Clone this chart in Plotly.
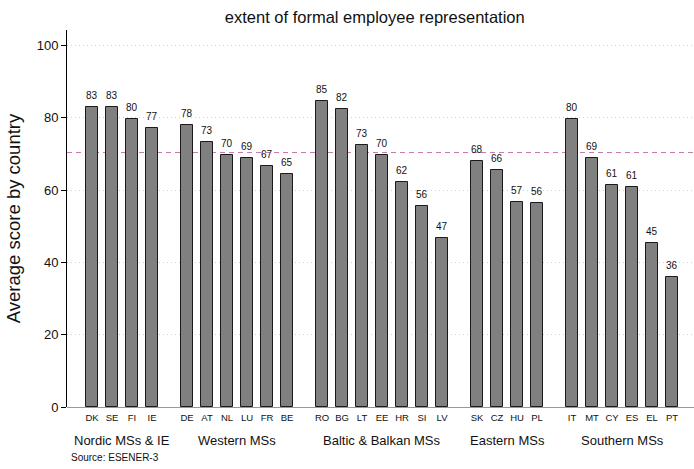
import plotly.graph_objects as go

groups = ["Nordic MSs & IE", "Western MSs", "Baltic & Balkan MSs", "Eastern MSs", "Southern MSs"]
group_countries = [
    ["DK", "SE", "FI", "IE"],
    ["DE", "AT", "NL", "LU", "FR", "BE"],
    ["RO", "BG", "LT", "EE", "HR", "SI", "LV"],
    ["SK", "CZ", "HU", "PL"],
    ["IT", "MT", "CY", "ES", "EL", "PT"],
]
group_values = [
    [83.0, 83.0, 79.8, 77.3],
    [78.0, 73.4, 69.7, 68.9, 66.8, 64.5],
    [84.6, 82.4, 72.5, 69.7, 62.2, 55.7, 46.8],
    [68.0, 65.7, 56.6, 56.4],
    [79.6, 68.9, 61.4, 60.9, 45.3, 35.9],
]
value_labels = [
    ["83", "83", "80", "77"],
    ["78", "73", "70", "69", "67", "65"],
    ["85", "82", "73", "70", "62", "56", "47"],
    ["68", "66", "57", "56"],
    ["80", "69", "61", "61", "45", "36"],
]
mean_value = 70.4
source_text = "Source: ESENER-3"
title_text = "extent of formal employee representation"
y_title = "Average score by country"

GAP = 0.75
xs, ys, labs, codes = [], [], [], []
group_centers = []
idx = 0
for g, (cs, vs, ls) in enumerate(zip(group_countries, group_values, value_labels)):
    gx = []
    for c, v, l in zip(cs, vs, ls):
        x = idx + g * GAP
        xs.append(x); ys.append(v); labs.append(l); codes.append(c); gx.append(x)
        idx += 1
    group_centers.append((gx[0] + gx[-1]) / 2)

fig = go.Figure()
fig.add_trace(go.Bar(
    x=xs, y=ys, width=0.6,
    marker=dict(color="#808080", line=dict(color="#1a1a1a", width=1)),
    hoverinfo="skip",
))

x_lo, x_hi = -1.25, 30.1
fig.add_shape(type="line", xref="x", yref="y", x0=x_lo, x1=x_hi, y0=mean_value, y1=mean_value,
              line=dict(color="#c879a8", width=1, dash="5px,4px"), layer="below")

font_family = "Liberation Sans, Arial, sans-serif"
annotations = []
for x, v, l in zip(xs, ys, labs):
    annotations.append(dict(x=x, y=v, xref="x", yref="y", text=l, showarrow=False,
                            font=dict(size=10, color="#111"), xanchor="center", yanchor="bottom", yshift=4))
for name, cx in zip(groups, group_centers):
    annotations.append(dict(x=cx, y=-0.089, xref="x", yref="paper", text=name, showarrow=False,
                            font=dict(size=13, color="#111"), xanchor="center", yanchor="middle"))
annotations.append(dict(x=0.0, y=-0.135, xref="paper", yref="paper", text=source_text, showarrow=False,
                        font=dict(size=10, color="#111"), xanchor="left", yanchor="middle", xshift=2))

fig.update_layout(
    width=694, height=469,
    margin=dict(l=67, r=0, t=30, b=62),
    paper_bgcolor="white", plot_bgcolor="white",
    font=dict(family=font_family, color="#111"),
    showlegend=False, bargap=0,
    title=dict(text=title_text, x=0.54, xanchor="center", y=0.963, yanchor="middle",
               font=dict(size=16.5, color="#111")),
    xaxis=dict(range=[x_lo, x_hi], tickvals=xs, ticktext=codes, tickfont=dict(size=9.5, color="#111"),
               showgrid=False, zeroline=False, showline=False, ticks="", ticklabelstandoff=3,
               automargin=False),
    yaxis=dict(range=[0, 104.3], tickvals=[0, 20, 40, 60, 80, 100], tickfont=dict(size=13, color="#111"),
               showgrid=True, gridcolor="#cfcfcf", griddash="1px,3px", gridwidth=1,
               zeroline=True, zerolinecolor="#999999", zerolinewidth=1,
               showline=True, linecolor="#000", linewidth=1,
               ticks="outside", ticklen=5, tickcolor="#000", automargin=False,
               title=dict(text=y_title, font=dict(size=18.5, color="#111"), standoff=11)),
    annotations=annotations,
)

fig.write_html("out.html", config={"displayModeBar": False},
               post_script="document.body.style.margin='0';document.body.style.padding='0';")
